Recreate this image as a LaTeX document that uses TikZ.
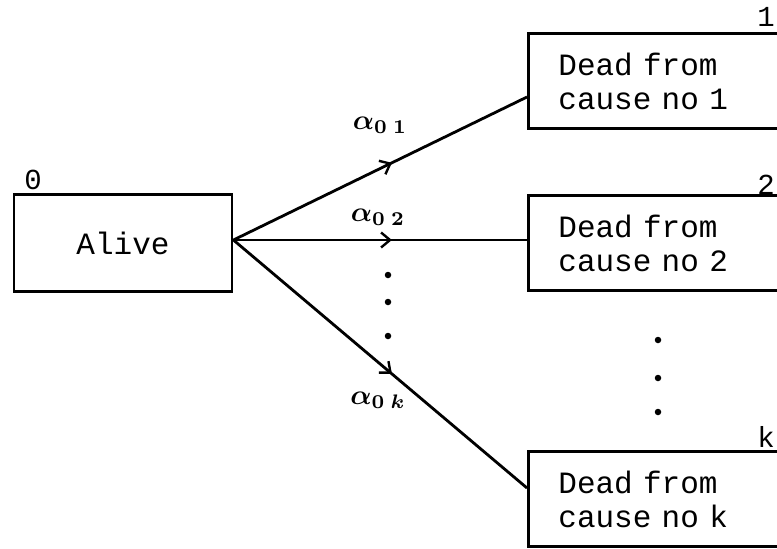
\documentclass[tikz,border=0pt]{standalone}
\usepackage{bm}
\usepackage{fontspec}
\setmonofont{Liberation Mono}
\usetikzlibrary{decorations.markings,arrows.meta}
\begin{document}
\begin{tikzpicture}[x=1pt,y=-1pt,
  box/.style={draw,line width=2.8pt,rectangle,inner sep=0pt},
  deadbox/.style={box,minimum width=290pt,minimum height=95pt,text width=230pt,inner xsep=29pt,align=left,anchor=west,font=\fontsize{31}{34}\selectfont\ttfamily},
  tr/.style={line width=2.8pt,postaction={decorate},decoration={markings,mark=at position 0.54 with {\arrow[line width=2.4pt]{Straight Barb[length=9pt,width=15pt]}}}},
  lab/.style={font=\bfseries},
  num/.style={font=\fontsize{29}{30}\selectfont\ttfamily},
  dot/.style={circle,fill,inner sep=0pt,minimum size=6.5pt}]
\useasboundingbox (0,0) rectangle (777,549);
\clip (0,0) rectangle (777,549);
\node[box,minimum width=218pt,minimum height=97pt,font=\fontsize{31}{34}\selectfont\ttfamily] (alive) at (123,243) {Alive};
\node[deadbox] (d1) at (527,81) {Dead from\\cause no 1};
\node[deadbox] (d2) at (527,243) {Dead from\\cause no 2};
\node[deadbox] (dk) at (527,499) {Dead from\\cause no k};
\node[num] (n0) at (33,180) {0};
\node[num] (n1) at (766,17) {1};
\node[num] (n2) at (766,185) {2};
\node[num] (nk) at (766,437) {k};
\draw[tr] ([yshift=3pt]alive.east) -- ([yshift=-16pt]d1.west);
\draw[tr] ([yshift=3pt]alive.east) -- ([yshift=3pt]d2.west);
\draw[tr] ([yshift=3pt]alive.east) -- ([yshift=11pt]dk.west);
\node[lab] (a1) at (380,125) {\scalebox{2.8}{$\bm{\alpha}_{\bm{0\;1}}$}};
\node[lab] (a2) at (378,217) {\scalebox{2.8}{$\bm{\alpha}_{\bm{0\;2}}$}};
\node[lab] (ak) at (378,400) {\scalebox{2.8}{$\bm{\alpha}_{\bm{0\;k}}$}};
\node[dot] (p1) at (388,275) {};
\node[dot] (p2) at (388,302) {};
\node[dot] (p3) at (388,336) {};
\node[dot] (q1) at (658,340) {};
\node[dot] (q2) at (658,378) {};
\node[dot] (q3) at (658,412) {};
\end{tikzpicture}
\end{document}
